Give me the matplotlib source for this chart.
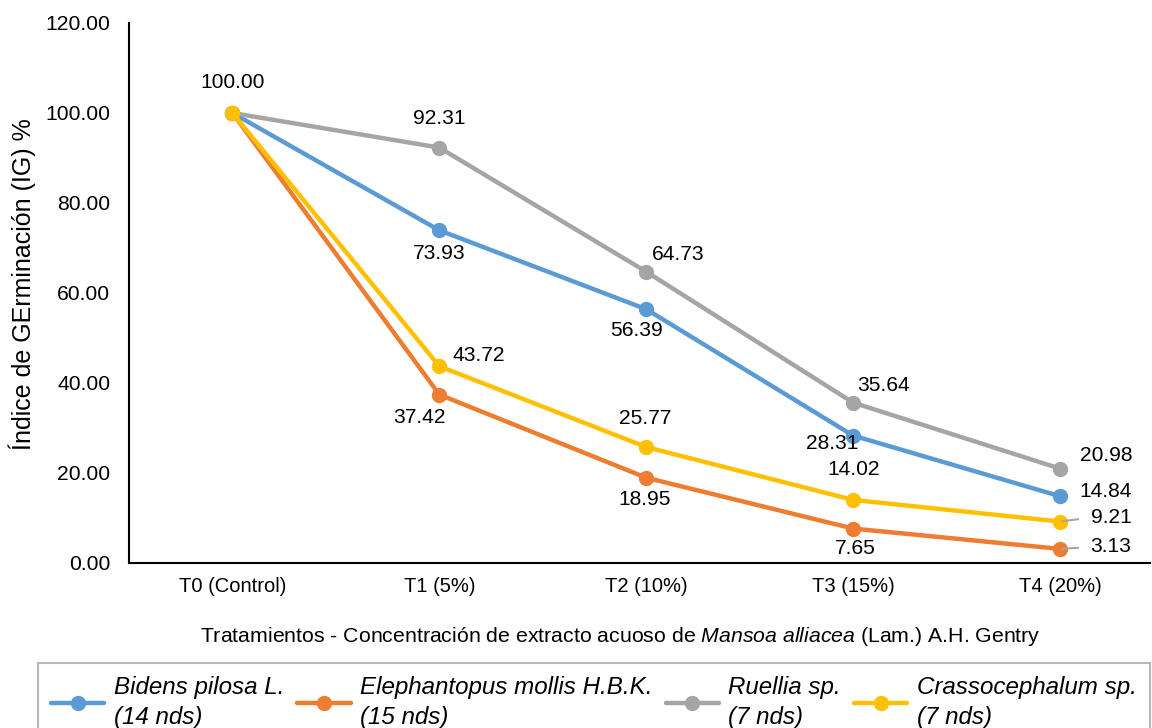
import matplotlib
matplotlib.use("Agg")
import matplotlib.pyplot as plt

plt.rcParams["font.family"] = ["Liberation Sans", "DejaVu Sans"]
plt.rcParams["mathtext.fontset"] = "custom"
plt.rcParams["mathtext.rm"] = "Liberation Sans"
plt.rcParams["mathtext.it"] = "Liberation Sans:italic"

# Treatments (x categories)
categories = ["T0 (Control)", "T1 (5%)", "T2 (10%)", "T3 (15%)", "T4 (20%)"]

# Germination index (%) per species
bidens = [100.00, 73.93, 56.39, 28.31, 14.84]
elephantopus = [100.00, 37.42, 18.95, 7.65, 3.13]
ruellia = [100.00, 92.31, 64.73, 35.64, 20.98]
crassocephalum = [100.00, 43.72, 25.77, 14.02, 9.21]

series_labels = [
    "Bidens pilosa L.\n(14 nds)",
    "Elephantopus mollis H.B.K.\n(15 nds)",
    "Ruellia sp.\n(7 nds)",
    "Crassocephalum sp.\n(7 nds)",
]

y_ticks = [0, 20, 40, 60, 80, 100, 120]

colors = ["#5B9BD5", "#ED7D31", "#A5A5A5", "#FFC000"]

# label placement (offset in pixels from the point; None = no label), leader flag
label_offsets = [
    [None, (0, -23), (-10, -21), (-21, -8), (46, 5)],
    [None, (-20, -23), (-2, -22), (2, -20), (51, 2)],
    [None, (0, 29), (32, 17), (30, 17), (46, 13)],
    [(0, 30), (39, 11), (-1, 29), (1, 30), (51, 4)],
]
leaders = [
    [False] * 5,
    [False, False, False, False, True],
    [False] * 5,
    [False, False, False, False, True],
]

W, H = 1152, 728
fig = plt.figure(figsize=(W / 100, H / 100), dpi=100)
ax = fig.add_axes([129 / W, (H - 563) / H, (1150 - 129) / W, (563 - 23) / H])

x = list(range(len(categories)))
all_series = [bidens, elephantopus, ruellia, crassocephalum]
lines = []
for vals, col, lab in zip(all_series, colors, series_labels):
    (ln,) = ax.plot(x, vals, color=col, lw=3.2, marker="o", ms=10,
                    solid_capstyle="round", label=lab, zorder=3)
    lines.append(ln)

for s, vals in enumerate(all_series):
    for i, v in enumerate(vals):
        off = label_offsets[s][i]
        if off is None:
            continue
        kw = {}
        if leaders[s][i]:
            kw["arrowprops"] = dict(arrowstyle="-", color="#A5A5A5", lw=1.5,
                                    shrinkA=7, shrinkB=1.5, relpos=(0, 0.5))
        ax.annotate(f"{v:.2f}", xy=(i, v), xytext=off, textcoords="offset pixels",
                    ha="center", va="center", fontsize=15.1, color="#000000",
                    zorder=5, **kw)

ax.set_xlim(-0.5, 4.435)
ax.set_ylim(0, 120)
ax.set_yticks(y_ticks)
ax.set_yticklabels([f"{t:.2f}" for t in y_ticks])
ax.set_xticks(x)
ax.set_xticklabels(categories)
ax.tick_params(axis="both", length=0)
ax.tick_params(axis="y", pad=13.5, labelsize=15.2)
ax.tick_params(axis="x", pad=10, labelsize=14.5)
for sp in ["top", "right"]:
    ax.spines[sp].set_visible(False)
for sp in ["left", "bottom"]:
    ax.spines[sp].set_color("#000000")
    ax.spines[sp].set_linewidth(1.5)

fig.text(22 / W, 1 - 284 / H, "Índice de GErminación (IG) %", rotation=90,
         ha="center", va="center", fontsize=18)
fig.text(620 / W, 1 - 636 / H,
         r"Tratamientos - Concentración de extracto acuoso de $\mathit{Mansoa\ alliacea}$ (Lam.) A.H. Gentry",
         ha="center", va="center", fontsize=15.3)

leg = fig.legend(handles=lines, labels=series_labels, ncol=4,
                 loc="upper left", bbox_to_anchor=(38 / W, 1 - 663 / H, 1112 / W, 0),
                 mode="expand", prop={"style": "italic", "size": 17.4},
                 handlelength=2.2, handletextpad=0.4, columnspacing=0.4,
                 borderpad=0.55, borderaxespad=0, fancybox=False, frameon=True)
for t in leg.get_texts():
    t.set_linespacing(1.35)
leg.get_frame().set_edgecolor("#A5A5A5")
leg.get_frame().set_linewidth(1.5)

fig.savefig("out.png", dpi=100)
